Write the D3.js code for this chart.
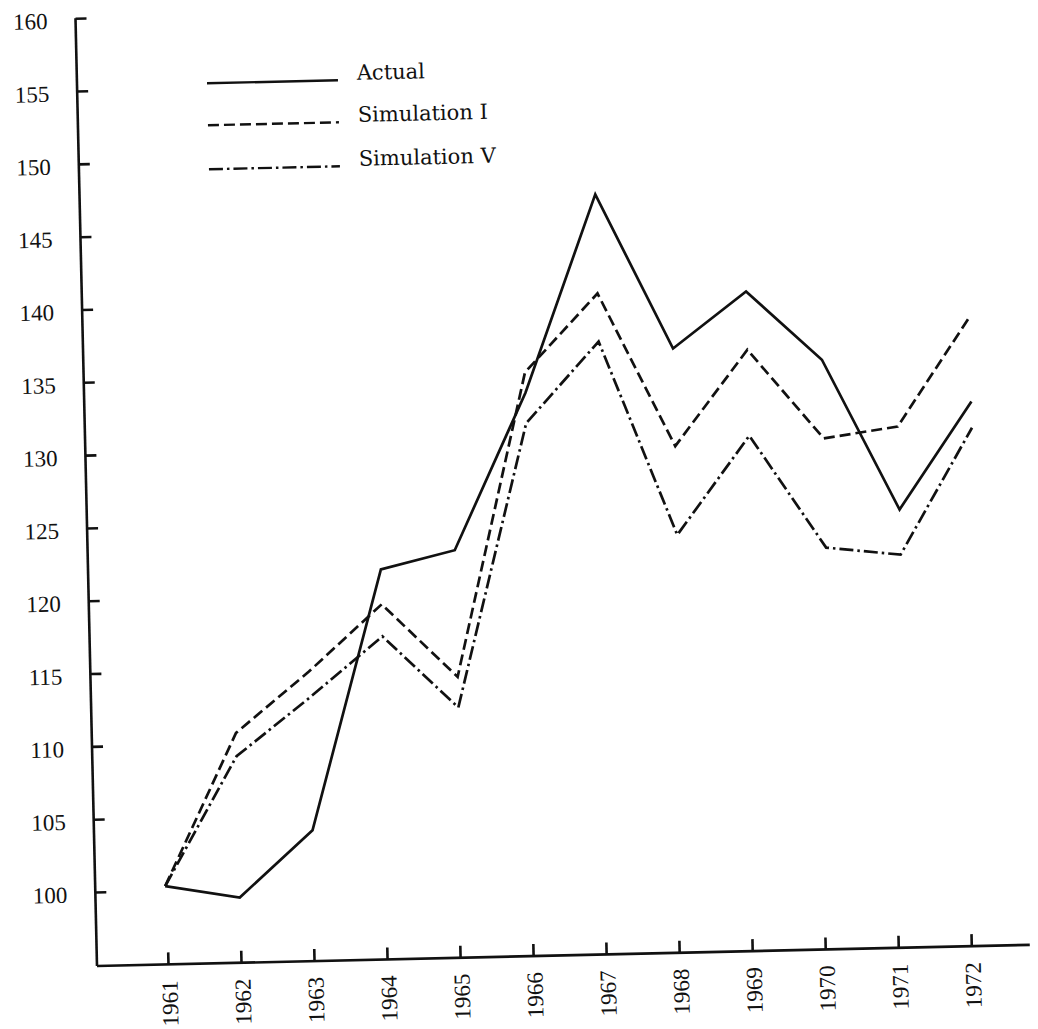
<!DOCTYPE html>
<html>
<head>
<meta charset="utf-8">
<script src="https://cdn.jsdelivr.net/npm/d3@7"></script>
<style>
  html, body { margin: 0; padding: 0; background: #fff; }
  svg { display: block; }
</style>
</head>
<body>
<svg id="chart" width="1038" height="1029"></svg>
<script>
// ---- data ----
const years = [1961, 1962, 1963, 1964, 1965, 1966, 1967, 1968, 1969, 1970, 1971, 1972];
const actual = [100.3, 99.4, 103.9, 121.7, 122.9, 133.6, 147.1, 136.4, 140.2, 135.4, 125.0, 132.3];
const simulationI = [100.3, 110.7, 114.8, 119.3, 114.2, 135.0, 140.3, 129.7, 136.2, 130.0, 130.7, 138.1];
const simulationV = [100.3, 109.1, 113.0, 117.1, 112.1, 131.5, 137.0, 123.6, 130.3, 122.5, 121.9, 130.5];
const yTickValues = [100, 105, 110, 115, 120, 125, 130, 135, 140, 145, 150, 155, 160];
const seriesNames = ["Actual", "Simulation I", "Simulation V"];

const series = [
  { name: seriesNames[0], values: actual, dash: null },
  { name: seriesNames[1], values: simulationI, dash: "11,5" },
  { name: seriesNames[2], values: simulationV, dash: "14,4,2.5,4" }
];

const ink = "#111";
const svg = d3.select("#chart");
const g = svg.append("g").attr("transform", "translate(97,966) rotate(-1.3)");

// axis tick scale and (hand-drawn, slightly wider) plotting scale
const xAxisScale = d3.scaleLinear().domain([1961, 1972]).range([71, 874.5]);
const xData = d3.scaleLinear().domain([1961, 1972]).range([70, 887]);
const y = d3.scaleLinear().domain([100, 160]).range([-74, -948]);

const numFont = "'Liberation Serif', 'Times New Roman', serif";

// y axis
const yAxis = d3.axisLeft(y).tickValues(yTickValues).tickSize(-11).tickSizeOuter(0).tickPadding(28).tickFormat(d3.format("d"));
const yg = g.append("g").call(yAxis);
yg.select(".domain").remove();
yg.selectAll(".tick line").attr("stroke", ink).attr("stroke-width", 2.6);
yg.selectAll(".tick text")
  .attr("fill", ink)
  .attr("font-family", numFont)
  .attr("font-size", 23)
  .attr("dy", "0.42em");
g.append("line").attr("x1", 0).attr("y1", 0).attr("x2", 0).attr("y2", y(160))
  .attr("stroke", ink).attr("stroke-width", 2.6);

// x axis
const xAxis = d3.axisBottom(xAxisScale).tickValues(years).tickSize(-12).tickSizeOuter(0).tickFormat(d3.format("d"));
const xg = g.append("g").call(xAxis);
xg.select(".domain").remove();
xg.selectAll(".tick line").attr("stroke", ink).attr("stroke-width", 2.6);
xg.selectAll(".tick text")
  .attr("fill", ink)
  .attr("font-family", numFont)
  .attr("font-size", 23)
  .attr("text-anchor", "end")
  .attr("transform", "translate(1,16) rotate(-90)")
  .attr("x", 0).attr("y", 0)
  .attr("dy", "0.33em");
g.append("line").attr("x1", 0).attr("y1", 0).attr("x2", 933).attr("y2", 0)
  .attr("stroke", ink).attr("stroke-width", 2.6);

// lines
const line = d3.line().x((d, i) => xData(years[i])).y(d => y(d));
g.selectAll("path.series").data(series).join("path")
  .attr("class", "series")
  .attr("d", s => line(s.values))
  .attr("fill", "none")
  .attr("stroke", ink)
  .attr("stroke-width", 2.7)
  .attr("stroke-linejoin", "miter")
  .attr("stroke-dasharray", s => s.dash);

// legend
const legendY = [-880, -838, -794];
const lg = g.append("g");
series.forEach((s, i) => {
  lg.append("line")
    .attr("x1", 130).attr("x2", 261)
    .attr("y1", legendY[i]).attr("y2", legendY[i])
    .attr("stroke", ink).attr("stroke-width", 2.4)
    .attr("stroke-dasharray", s.dash);
  lg.append("text")
    .attr("x", 280).attr("y", legendY[i])
    .attr("fill", ink)
    .attr("font-family", "'DejaVu Serif', serif")
    .attr("font-size", 21)
    .text(s.name);
});
</script>
</body>
</html>
